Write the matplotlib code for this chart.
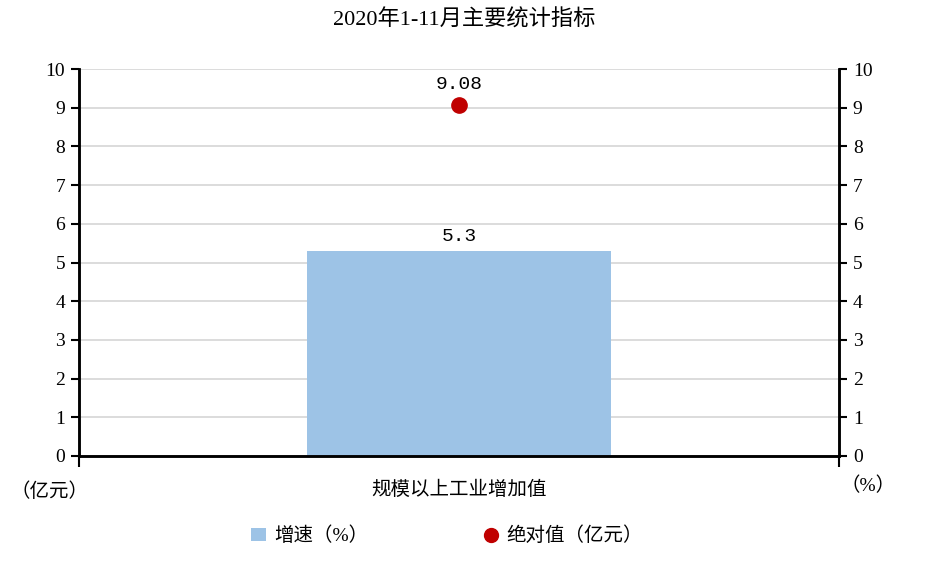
import matplotlib
matplotlib.use("Agg")
import matplotlib.pyplot as plt
from matplotlib.lines import Line2D
from matplotlib.patches import Patch

plt.rcParams['font.family'] = ['Liberation Serif', 'Noto Sans CJK SC', 'DejaVu Sans']

# datos
categories = ["规模以上工业增加值"]
growth = [5.3]          # 增速 (%)
absolute = [9.08]       # 绝对值 (亿元)
yticks = list(range(0, 11))

BAR_COLOR = "#9DC3E6"
DOT_COLOR = "#C00000"

fig = plt.figure(figsize=(9.29, 5.69), dpi=100)
ax = fig.add_axes([0.085, 0.1986, 0.818, 0.68])
ax2 = ax.twinx()

x = list(range(len(categories)))
ax.bar(x, growth, width=0.4, color=BAR_COLOR, zorder=2)
ax2.plot(x, absolute, "o", color=DOT_COLOR, markersize=11, zorder=3)

for xi, v in zip(x, growth):
    ax.text(xi, v + 0.15, f"{v}", ha="center", va="bottom", fontsize=14,
            family="Liberation Mono")
for xi, v in zip(x, absolute):
    ax2.text(xi, v + 0.3, f"{v:.2f}", ha="center", va="bottom", fontsize=14,
             family="Liberation Mono")

for a in (ax, ax2):
    a.set_ylim(0, 10)
    a.set_yticks(yticks)
    a.set_xlim(-0.5, 0.5)
    a.tick_params(axis="y", labelsize=14, length=6, width=1.5, pad=4)
    for s in a.spines.values():
        s.set_linewidth(1.8)
    a.spines["top"].set_visible(False)

ax.yaxis.grid(True, color="#D9D9D9", linewidth=1.3, zorder=0)
ax.set_axisbelow(True)

ax.set_xticks([-0.5, 0.5])
ax.set_xticklabels(["", ""])
ax.tick_params(axis="x", length=8, width=1.5)
ax.text(0, -0.65, categories[0], ha="center", va="top", fontsize=14,
        transform=ax.transData)

fig.text(50 / 929, 1 - 492 / 569, "（亿元）", ha="center", va="center", fontsize=14)
fig.text(868 / 929, 1 - 486 / 569, "（%）", ha="center", va="center", fontsize=14)

fig.suptitle("2020年1-11月主要统计指标", y=1 - 20 / 569, va="center", fontsize=16)

handles = [
    Patch(facecolor=BAR_COLOR, label="增速（%）"),
    Line2D([], [], marker="o", linestyle="none", color=DOT_COLOR, markersize=10,
           label="绝对值（亿元）"),
]
fig.legend(handles=handles, loc="center", bbox_to_anchor=(0.481, 1 - 536 / 569),
           ncol=2, frameon=False, fontsize=14, handlelength=0.8,
           handletextpad=0.4, columnspacing=5.9)

fig.savefig("out.png", dpi=100)
